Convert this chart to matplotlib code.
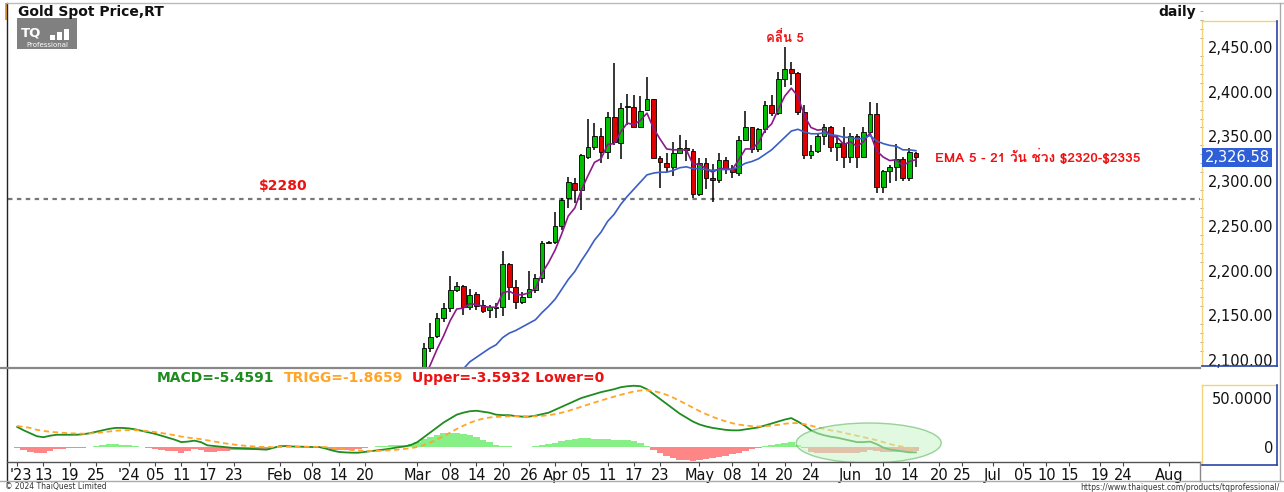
import numpy as np
import matplotlib
matplotlib.use("Agg")
import matplotlib.pyplot as plt
from matplotlib.patches import Rectangle, Ellipse
from matplotlib.lines import Line2D
from matplotlib.transforms import ScaledTranslation
from matplotlib import font_manager as fm
from matplotlib.ft2font import FT2Font

# ---------------- data ----------------
candle_start = "2024-03-04"
opens = [2083, 2113, 2127, 2147, 2158, 2178, 2183, 2159, 2174, 2161, 2156, 2158, 2159, 2207, 2182, 2165, 2171, 2178, 2192, 2231,
         2232, 2250, 2281, 2298, 2290, 2327, 2338, 2351, 2333, 2372, 2343, 2383, 2383, 2361, 2380, 2392, 2326, 2320, 2316, 2331,
         2337, 2334, 2286, 2320, 2303, 2301, 2324, 2314, 2309, 2346, 2360, 2336, 2358, 2385, 2376, 2414, 2425, 2421, 2377, 2329,
         2334, 2350, 2361, 2338, 2343, 2327, 2350, 2327, 2355, 2375, 2294, 2311, 2316, 2325, 2303, 2332]
highs = [2119, 2141, 2152, 2164, 2194, 2187, 2184, 2179, 2176, 2167, 2162, 2164, 2222, 2209, 2189, 2176, 2199, 2196, 2233, 2233,
         2265, 2281, 2305, 2304, 2330, 2369, 2365, 2359, 2377, 2432, 2387, 2398, 2396, 2395, 2417, 2392, 2328, 2332, 2344, 2352,
         2346, 2336, 2326, 2326, 2319, 2331, 2327, 2318, 2351, 2378, 2361, 2359, 2390, 2396, 2422, 2450, 2433, 2422, 2385, 2340,
         2354, 2364, 2362, 2351, 2360, 2354, 2353, 2360, 2388, 2387, 2313, 2318, 2342, 2327, 2337, 2333]
lows = [2079, 2109, 2125, 2142, 2154, 2176, 2150, 2156, 2156, 2152, 2147, 2147, 2149, 2167, 2157, 2163, 2169, 2175, 2186, 2231,
        2230, 2245, 2270, 2275, 2268, 2325, 2335, 2320, 2325, 2340, 2325, 2363, 2360, 2360, 2380, 2326, 2292, 2310, 2306, 2330,
        2322, 2281, 2283, 2291, 2277, 2298, 2308, 2303, 2306, 2345, 2332, 2333, 2354, 2373, 2374, 2405, 2407, 2374, 2325, 2325,
        2332, 2340, 2333, 2323, 2315, 2320, 2315, 2326, 2350, 2287, 2287, 2298, 2300, 2300, 2300, 2316]
closes = [2113, 2126, 2147, 2158, 2178, 2183, 2159, 2173, 2160, 2155, 2159, 2158, 2207, 2182, 2165, 2171, 2179, 2192, 2231, 2232,
          2250, 2279, 2299, 2290, 2329, 2338, 2351, 2333, 2372, 2344, 2382, 2383, 2361, 2378, 2392, 2326, 2321, 2316, 2331, 2337,
          2335, 2286, 2320, 2303, 2301, 2324, 2314, 2310, 2346, 2360, 2336, 2358, 2385, 2376, 2414, 2425, 2421, 2377, 2329, 2334,
          2350, 2361, 2338, 2343, 2327, 2350, 2327, 2355, 2375, 2294, 2311, 2316, 2325, 2303, 2333, 2327]
ema5 = [2079, 2095, 2112, 2127, 2144, 2157, 2158, 2163, 2162, 2160, 2159, 2159, 2175, 2177, 2173, 2173, 2175, 2180, 2197, 2209,
        2223, 2241, 2261, 2270, 2290, 2306, 2321, 2325, 2341, 2342, 2355, 2365, 2363, 2368, 2376, 2359, 2347, 2336, 2335, 2335,
        2335, 2319, 2319, 2314, 2310, 2314, 2314, 2313, 2324, 2336, 2336, 2343, 2357, 2364, 2380, 2395, 2404, 2395, 2373, 2360,
        2357, 2358, 2351, 2349, 2341, 2344, 2339, 2344, 2354, 2334, 2327, 2323, 2324, 2317, 2322, 2324]
ema21_start = "2024-03-11"
ema21 = [2083, 2090, 2098, 2103, 2108, 2113, 2117, 2125, 2130, 2133, 2137, 2141, 2145, 2153, 2160, 2168, 2179, 2190, 2199, 2211,
         2222, 2234, 2243, 2255, 2263, 2274, 2283, 2291, 2299, 2307, 2309, 2310, 2310, 2312, 2315, 2316, 2314, 2314, 2313, 2312,
         2313, 2313, 2313, 2316, 2320, 2322, 2325, 2330, 2335, 2342, 2349, 2356, 2358, 2355, 2353, 2353, 2354, 2352, 2351, 2349,
         2349, 2347, 2348, 2351, 2345, 2342, 2340, 2339, 2335, 2335, 2334]
macd_start = "2023-12-07"
macd = [20.5, 17, 14, 11, 10, 11.5, 12.5, 12.5, 12.5, 12.5,
        13, 14, 15.5, 17, 18.5, 19.5, 19.5, 19, 18, 16.5,
        15, 13.5, 11.5, 9.5, 7.5, 5, 5.5, 6.5, 5, 1.7,
        1, 0.3, -0.3, -1, -1.3, -1.7, -2, -2.4, -2.7, -1,
        0.8, 1, 0.5, 0.3, 0.2, 0, 0, -1.5, -3.5, -5,
        -5.5, -5.8, -5.8, -5, -4.3, -3.4, -2.5, -1.5, -0.3, 0.5,
        2, 5, 10, 15, 20, 25, 29, 33, 35, 36.5,
        37, 36, 35, 33, 32.5, 32.5, 31.5, 31, 31, 32,
        33.5, 35, 38, 41, 44, 47, 50, 52, 54, 56,
        57.5, 59, 61, 62, 62.5, 62, 59, 54, 49, 44,
        39, 34, 30, 26, 23, 21, 19.5, 18.5, 17.5, 17,
        17, 18, 19, 20, 22, 24, 26, 28, 29.5, 26,
        22, 17, 14, 12, 10.5, 9.5, 8, 6.5, 5, 5,
        5.5, 3, -0.5, -2.5, -3.5, -4.5, -5.5, -5.4591]
trigg = [21.5, 20.5, 19.5, 17.5, 16.5, 15.5, 15, 14.5, 14, 13.8,
         13.6, 13.8, 14.3, 15, 15.8, 16.6, 17, 17.2, 17.2, 16.8,
         16.2, 15.3, 14.3, 13.2, 12, 10.7, 9.6, 8.8, 8, 6.8,
         5.6, 4.5, 3.4, 2.5, 1.7, 1.1, 0.6, 0.2, 0, -0.2,
         0, 0.2, 0.3, 0.3, 0.3, 0.2, 0.2, -0.1, -0.8, -1.6,
         -2.4, -3.1, -3.6, -4, -4.1, -4, -3.7, -3.3, -2.7, -2,
         -1.2, 0, 2, 4.6, 7.7, 11.2, 14.7, 18.4, 21.7, 24.7,
         27.1, 28.9, 30.1, 30.7, 31, 31.3, 31.4, 31.3, 31.2, 31.4,
         31.8, 32.4, 33.6, 35, 36.8, 38.9, 41.1, 43.3, 45.4, 47.5,
         49.5, 51.4, 53.4, 55.1, 56.6, 57.7, 57.9, 57.1, 55.5, 53.2,
         50.4, 47.1, 43.7, 40.1, 36.7, 33.6, 30.8, 28.3, 26.2, 24.3,
         22.9, 21.9, 21.3, 21, 21.2, 21.8, 22.6, 23.7, 24.5, 24.3,
         23.3, 21.8, 20, 18.5, 17, 16, 14.5, 13, 11.5, 10,
         8.5, 7, 5, 3, 1.5, 0.3, -0.9, -1.8659]
price_ticks = [2100, 2150, 2200, 2250, 2300, 2350, 2400, 2450]
macd_ticks = [0, 50]
xtick_dates = ["2023-12-07", "2023-12-13", "2023-12-19", "2023-12-25", "2024-01-01", "2024-01-05", "2024-01-11",
               "2024-01-17", "2024-01-23", "2024-02-01", "2024-02-08", "2024-02-14", "2024-02-20", "2024-03-01",
               "2024-03-08", "2024-03-14", "2024-03-20", "2024-03-26", "2024-04-01", "2024-04-05", "2024-04-11",
               "2024-04-17", "2024-04-23", "2024-05-01", "2024-05-08", "2024-05-14", "2024-05-20", "2024-05-24",
               "2024-06-03", "2024-06-10", "2024-06-14"]
xtick_labels = ["'23", "13", "19", "25", "'24", "05", "11", "17", "23", "Feb", "08", "14", "20", "Mar",
                "08", "14", "20", "26", "Apr", "05", "11", "17", "23", "May", "08", "14", "20", "24",
                "Jun", "10", "14"]
future_tick_dates = ["2024-06-20", "2024-06-25", "2024-07-01", "2024-07-05", "2024-07-10", "2024-07-15",
                     "2024-07-19", "2024-07-24", "2024-08-01"]
future_tick_labels = ["20", "25", "Jul", "05", "10", "15", "19", "24", "Aug"]
support_level = 2280
last_price = 2326.58

# ---------------- helpers ----------------
W, H = 1284, 492
base = np.datetime64(candle_start)


def bidx(d):
    return int(np.busday_count(base, np.datetime64(d)))


def find_font_with(ch):
    for f in fm.fontManager.ttflist:
        try:
            if ord(ch) in FT2Font(f.fname).get_charmap():
                return f.name
        except Exception:
            pass
    return None


thai = find_font_with("ค")
thai_fam = [thai, "DejaVu Sans"] if thai else ["DejaVu Sans"]
plt.rcParams["font.family"] = ["DejaVu Sans"]

fig = plt.figure(figsize=(W / 100, H / 100), dpi=100)
fig.patch.set_facecolor("white")


def box(top, bottom, left=8, right=1200):
    return [left / W, 1 - bottom / H, (right - left) / W, (bottom - top) / H]


def fline(x1, y1, x2, y2, color, lw=1.0, z=5):
    fig.add_artist(Line2D([x1 / W, x2 / W], [1 - y1 / H, 1 - y2 / H], transform=fig.transFigure,
                          color=color, lw=lw, zorder=z))


ax = fig.add_axes(box(3, 368))
ax2 = fig.add_axes(box(369, 462), sharex=ax)
for a in (ax, ax2):
    for s in a.spines.values():
        s.set_visible(False)
    a.set_facecolor("white")

# x scale: 6.56 px per business day, Mar 4 at x=424
ax.set_xlim(-63.4, 118.3)
ax.set_ylim(2091.05, 2499.2)
ax2.set_ylim(-15.3, 79.6)

# ---------------- candles ----------------
o, h, l, c = map(np.array, (opens, highs, lows, closes))
xc = np.arange(len(c)) + bidx(candle_start)
up = c >= o
ax.vlines(xc, l, h, color="black", lw=1.1, zorder=2)
ax.bar(xc, np.maximum(np.abs(c - o), 0.9), bottom=np.minimum(o, c), width=0.72,
       color=np.where(up, "#00bf00", "#e00000"), edgecolor="black", linewidth=0.6, zorder=3)
ax.plot(xc, ema5, color="#8a1a8a", lw=1.2, zorder=4)
xe = np.arange(len(ema21)) + bidx(ema21_start)
ax.plot(xe, ema21, color="#3a5ec4", lw=1.2, zorder=4)

ax.axhline(support_level, color="#777777", lw=1.6, ls=(0, (2, 2)), zorder=1)
ax.text(bidx("2024-01-23") + 7.5, support_level + 7, "$2280", color="#ee1111", fontsize=10,
        fontweight="bold", ha="center", va="bottom", parse_math=False)
ax.text(bidx("2024-05-20") + 0.0, 2452, "คลื่น 5", color="#ee1111", fontsize=9.5, fontweight="bold",
        ha="center", va="bottom", family=thai_fam)
ax.text(77.9, 2327, "EMA 5 - 21 วัน ช่วง $2320-$2335", color="#ee1111", fontsize=9.8,
        fontweight="bold", ha="left", va="center", family=thai_fam, parse_math=False)

# right price labels
ax.yaxis.tick_right()
ax.set_yticks(price_ticks)
ax.set_yticklabels([f"{v:,.2f}" for v in price_ticks])
ax.tick_params(axis="y", length=0, pad=52.6, labelsize=10.5, labelcolor="#111111")
for t in ax.get_yticklabels():
    t.set_horizontalalignment("right")
ax.set_yticks(np.arange(2100, 2500, 10), minor=True)
ax.tick_params(axis="y", which="minor", length=2, color="#999999", right=True)
ax.tick_params(axis="x", which="both", bottom=False, labelbottom=False)
yl = 1 - (47 + (2450 - last_price) * 0.8943) / H
fig.text(1237 / W, yl, f"{last_price:,.2f}", color="white", fontsize=10.5, ha="center", va="center",
         bbox=dict(boxstyle="square,pad=0.14", fc="#2f5fd6", ec="none"), zorder=10)

# ---------------- MACD ----------------
m, tr = np.array(macd), np.array(trigg)
xm = np.arange(len(m)) + bidx(macd_start)
hist = m - tr
ax2.bar(xm, hist, width=1.0, color=np.where(hist >= 0, "#86f086", "#ff8686"), linewidth=0, zorder=1)
ax2.plot(xm, m, color="#1f8c1f", lw=1.3, zorder=3)
ax2.plot(xm, tr, color="#ffa52a", lw=1.3, ls=(0, (3, 2)), zorder=3)
ax2.add_patch(Ellipse((67.8, 4.1), 22.1, 40.8, fc="#c8f5c8", ec="#4fb04f", lw=1.0, alpha=0.55, zorder=4))

ax2.yaxis.tick_right()
ax2.set_yticks(macd_ticks)
ax2.set_yticklabels(["0", "50.0000"])
ax2.tick_params(axis="y", length=0, pad=52.6, labelsize=10.5, labelcolor="#111111")
for t in ax2.get_yticklabels():
    t.set_horizontalalignment("right")

xt = [bidx(d) for d in xtick_dates]
last_x = len(c) - 1 + bidx(candle_start)
xt_future = [last_x + 1.17 * (bidx(d) - last_x) for d in future_tick_dates]
ax2.set_xticks(xt + xt_future)
ax2.set_xticklabels(xtick_labels + future_tick_labels)
ax2.tick_params(axis="x", length=3, pad=1.5, labelsize=10.5, color="#444444", labelcolor="#111111")
first = ax2.get_xticklabels()[0]
first.set_transform(first.get_transform() + ScaledTranslation(4 / 100, 0, fig.dpi_scale_trans))

# MACD legend
fy = 1 - 378 / H
fig.text(157 / W, fy, "MACD=-5.4591", color="#1f8c1f", fontsize=10, fontweight="bold", va="center")
fig.text(284 / W, fy, "TRIGG=-1.8659", color="#ffa52a", fontsize=10, fontweight="bold", va="center")
fig.text(412 / W, fy, "Upper=-3.5932 Lower=0", color="#ee1111", fontsize=10, fontweight="bold", va="center")

# ---------------- frame / decorations ----------------
fline(7, 3, 7, 482, "#222222", 1.0)
fline(7, 3, 1284, 3, "#bbbbbb", 1.0)
fline(0, 368, 1200, 368, "#888888", 1.6)
fline(7, 462, 1200, 462, "#555555", 1.0)
fline(0, 481, 1284, 481, "#aaaaaa", 1.0)
fline(1200, 462, 1200, 481, "#888888", 1.0)
fline(1280, 3, 1280, 481, "#aaaaaa", 1.0)
# label boxes
fline(1202, 21, 1277, 21, "#f2d27a", 1.0)
fline(1202, 21, 1202, 366, "#f2d27a", 1.0)
fline(1277, 21, 1277, 366, "#2a44a8", 1.2)
fline(1202, 366, 1277, 366, "#2a44a8", 1.2)
fline(1202, 385, 1277, 385, "#f2d27a", 1.0)
fline(1202, 385, 1202, 465, "#f2d27a", 1.0)
fline(1277, 385, 1277, 465, "#2a44a8", 1.2)
fline(1202, 465, 1277, 465, "#2a44a8", 1.2)
# orange marker top-left
fig.add_artist(Rectangle((5 / W, 1 - 20 / H), 3 / W, 17 / H, transform=fig.transFigure, fc="#f0a030", ec="none"))

fig.text(18 / W, 1 - 12 / H, "Gold Spot Price,RT", fontsize=10, fontweight="bold", va="center", color="#111111")
fig.text(1196 / W, 1 - 12 / H, "daily", fontsize=10, fontweight="bold", va="center", ha="right", color="#111111")
# logo
fig.add_artist(Rectangle((17 / W, 1 - 49 / H), 60 / W, 31 / H, transform=fig.transFigure, fc="#808080", ec="none"))
fig.text(21 / W, 1 - 33 / H, "TQ", fontsize=9.5, fontweight="bold", color="white", va="center")
for i, hh in enumerate([5, 8, 11]):
    fig.add_artist(Rectangle(((50 + i * 7) / W, 1 - 40 / H), 5 / W, hh / H, transform=fig.transFigure,
                             fc="white", ec="none"))
fig.text(47 / W, 1 - 45 / H, "Professional", fontsize=5, color="white", va="center", ha="center")

fig.text(5 / W, 1 - 487 / H, "© 2024 ThaiQuest Limited", fontsize=5.5, color="#333333", va="center")
fig.text(1280 / W, 1 - 487 / H, "https://www.thaiquest.com/products/tqprofessional/", fontsize=5.5,
         color="#333333", va="center", ha="right")

fig.savefig("out.png", dpi=100, facecolor="white")
